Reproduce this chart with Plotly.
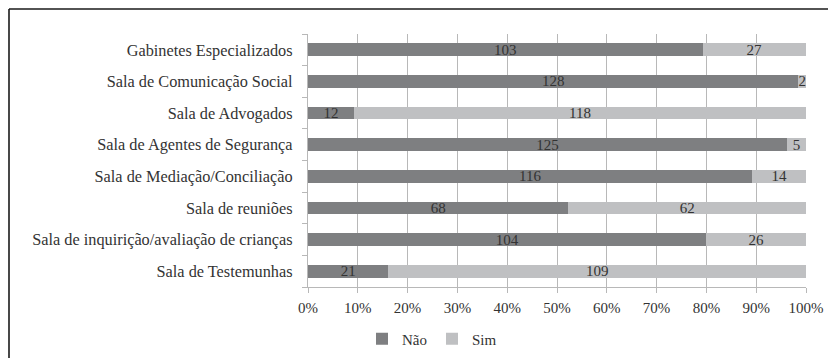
import plotly.graph_objects as go

categories = [
    "Gabinetes Especializados",
    "Sala de Comunicação Social",
    "Sala de Advogados",
    "Sala de Agentes de Segurança",
    "Sala de Mediação/Conciliação",
    "Sala de reuniões",
    "Sala de inquirição/avaliação de crianças",
    "Sala de Testemunhas",
]
nao = [103, 128, 12, 125, 116, 68, 104, 21]
sim = [27, 2, 118, 5, 14, 62, 26, 109]
x_ticks = [0, 10, 20, 30, 40, 50, 60, 70, 80, 90, 100]
x_tick_labels = [f"{v}%" for v in x_ticks]

FONT = "'Times New Roman', 'Liberation Serif', 'DejaVu Serif', serif"
W, H = 828, 358
L, R, T, B = 308, 22, 34, 71

fig = go.Figure()
for name, vals, color in [("Não", nao, "#7e7f81"), ("Sim", sim, "#bfc0c2")]:
    fig.add_trace(go.Bar(
        y=categories, x=vals, name=name, orientation="h",
        marker=dict(color=color, line=dict(width=0)),
        text=[str(v) for v in vals], textposition="inside",
        insidetextanchor="middle", textangle=0, constraintext="none",
        textfont=dict(family=FONT, size=15, color="#333333"),
        hoverinfo="skip",
    ))

fig.update_layout(
    width=W, height=H,
    margin=dict(l=L, r=R, t=T, b=B, pad=0, autoexpand=False),
    barmode="stack", barnorm="percent", bargap=0.6,
    plot_bgcolor="white", paper_bgcolor="white",
    font=dict(family=FONT, size=15, color="#333333"),
    showlegend=True,
    legend=dict(orientation="h", x=(432 - L) / (W - L - R), xanchor="center",
                y=-(339 - (H - B)) / (H - T - B), yanchor="middle",
                font=dict(family=FONT, size=15, color="#333333"),
                itemwidth=30, traceorder="normal"),
    xaxis=dict(range=[0, 100], tickvals=x_ticks, ticktext=x_tick_labels,
               automargin=False,
               showgrid=True, gridcolor="#b8b8b8", gridwidth=1.3,
               ticks="outside", ticklen=5, tickcolor="#b8b8b8",
               showline=True, linecolor="#b8b8b8", linewidth=1.3,
               zeroline=False, ticklabelstandoff=2,
               tickfont=dict(family=FONT, size=15, color="#333333")),
    yaxis=dict(categoryorder="array", categoryarray=categories[::-1],
               automargin=False, showgrid=False,
               ticks="outside", ticklen=5, tickcolor="#b8b8b8", tickson="boundaries",
               showline=True, linecolor="#b8b8b8", linewidth=1.3,
               ticklabelstandoff=11,
               tickfont=dict(family=FONT, size=16.3, color="#333333")),
)

# Frame around the chart area (top and left edges)
fx = (9 - L) / (W - L - R)
fy = (H - B - 9) / (H - T - B)
fig.add_shape(type="line", xref="paper", yref="paper", x0=fx, x1=1.2, y0=fy, y1=fy,
              line=dict(color="#1a1a1a", width=1.6))
fig.add_shape(type="line", xref="paper", yref="paper", x0=fx, x1=fx, y0=fy, y1=-0.5,
              line=dict(color="#1a1a1a", width=1.6))

fig.write_html("out.html")
